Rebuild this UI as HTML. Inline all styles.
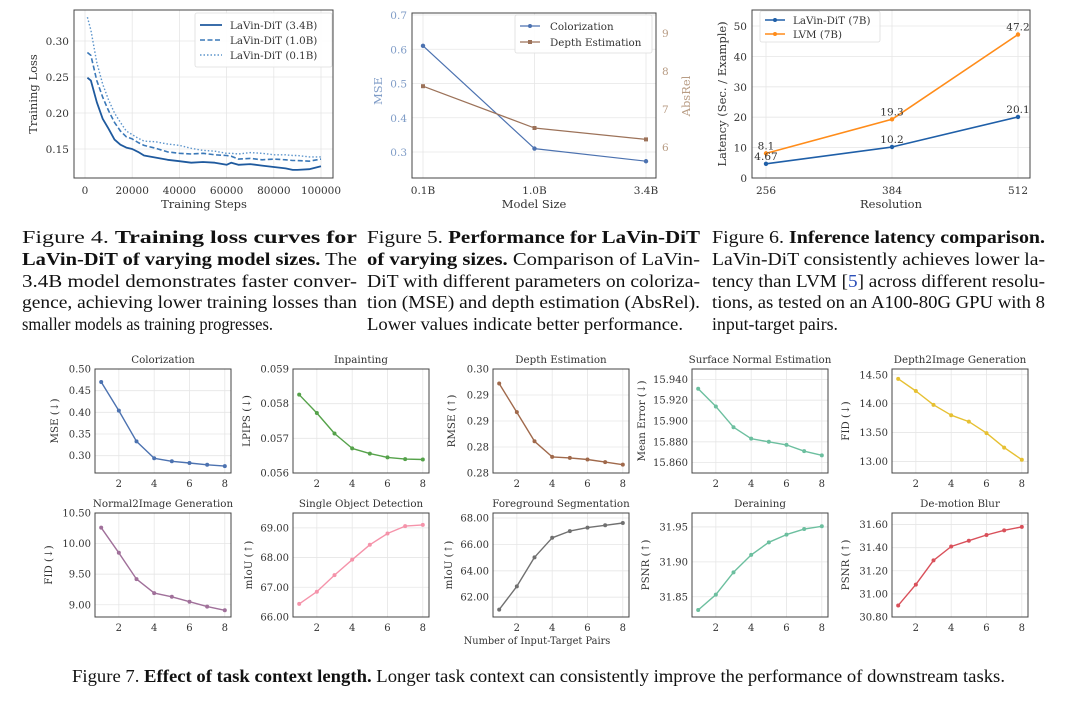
<!DOCTYPE html>
<html><head><meta charset="utf-8"><style>
html,body{margin:0;padding:0;background:#fff;}
svg{display:block;}
.tk{font-family:"DejaVu Serif","Liberation Serif",serif;fill:#333;}
.cap{font-family:"Liberation Serif","Times New Roman",serif;fill:#111;}
</style></head><body>
<svg id="root" width="1080" height="709" viewBox="0 0 1080 709" xmlns="http://www.w3.org/2000/svg">
<rect width="1080" height="709" fill="#fff"/>
<g id="cap" class="cap" font-size="17.5">
<text x="22" y="243" textLength="335" lengthAdjust="spacingAndGlyphs">Figure 4.   <tspan font-weight="bold">Training   loss   curves   for</tspan></text>
<text x="22" y="265" textLength="335" lengthAdjust="spacingAndGlyphs"><tspan font-weight="bold">LaVin-DiT of varying model sizes.</tspan>  The</text>
<text x="22" y="287" textLength="335" lengthAdjust="spacingAndGlyphs">3.4B  model  demonstrates  faster  conver-</text>
<text x="22" y="308" textLength="335" lengthAdjust="spacingAndGlyphs">gence, achieving lower training losses than</text>
<text x="22" y="330" textLength="251" lengthAdjust="spacingAndGlyphs">smaller models as training progresses.</text>
<text x="367" y="243" textLength="333" lengthAdjust="spacingAndGlyphs">Figure 5.  <tspan font-weight="bold">Performance for LaVin-DiT</tspan></text>
<text x="367" y="265" textLength="333" lengthAdjust="spacingAndGlyphs"><tspan font-weight="bold">of varying sizes.</tspan>  Comparison of LaVin-</text>
<text x="367" y="287" textLength="333" lengthAdjust="spacingAndGlyphs">DiT with different parameters on coloriza-</text>
<text x="367" y="308" textLength="333" lengthAdjust="spacingAndGlyphs">tion (MSE) and depth estimation (AbsRel).</text>
<text x="367" y="330" textLength="316" lengthAdjust="spacingAndGlyphs">Lower values indicate better performance.</text>
<text x="712" y="243" textLength="333" lengthAdjust="spacingAndGlyphs">Figure 6.  <tspan font-weight="bold">Inference latency comparison.</tspan></text>
<text x="712" y="265" textLength="333" lengthAdjust="spacingAndGlyphs">LaVin-DiT consistently achieves lower la-</text>
<text x="712" y="287" textLength="333" lengthAdjust="spacingAndGlyphs">tency than LVM [<tspan fill="#2b4fb8">5</tspan>] across different resolu-</text>
<text x="712" y="308" textLength="333" lengthAdjust="spacingAndGlyphs">tions, as tested on an A100-80G GPU with 8</text>
<text x="712" y="330" textLength="126" lengthAdjust="spacingAndGlyphs">input-target pairs.</text>
<text x="72" y="682" font-size="17.5" textLength="933" lengthAdjust="spacingAndGlyphs">Figure 7. <tspan font-weight="bold">Effect of task context length.</tspan> Longer task context can consistently improve the performance of downstream tasks.</text>
</g>
</svg>
<script>
// ---------- Figure 4 data ----------
const f4Steps = [1000,2500,5000,7500,10000,12500,15000,17500,20000,22500,25000,30000,35000,40000,45000,50000,55000,60000,62000,65000,70000,75000,80000,85000,88000,90000,95000,100000];
const f4Loss34 = [0.249,0.245,0.215,0.192,0.178,0.163,0.156,0.152,0.150,0.146,0.141,0.138,0.135,0.133,0.131,0.132,0.131,0.128,0.131,0.128,0.129,0.127,0.125,0.123,0.121,0.121,0.122,0.126];
const f4Loss10 = [0.284,0.280,0.245,0.222,0.203,0.187,0.175,0.167,0.164,0.159,0.155,0.151,0.146,0.144,0.143,0.144,0.142,0.141,0.140,0.136,0.137,0.135,0.136,0.135,0.134,0.134,0.133,0.136];
const f4Loss01 = [0.333,0.315,0.270,0.240,0.218,0.200,0.187,0.175,0.170,0.165,0.161,0.160,0.157,0.155,0.151,0.148,0.147,0.144,0.144,0.143,0.145,0.144,0.142,0.142,0.141,0.141,0.139,0.139];
const f4XTicks = [0,20000,40000,60000,80000,100000];
const f4YTicks = [0.15,0.20,0.25,0.30];
// ---------- Figure 5 data ----------
const f5Cats = ["0.1B","1.0B","3.4B"];
const f5Color = [0.61,0.31,0.273];
const f5Depth = [7.6,6.5,6.2];
const f5LTicks = [0.3,0.4,0.5,0.6,0.7];
const f5RTicks = [6,7,8,9];
// ---------- Figure 6 data ----------
const f6Res = [256,384,512];
const f6Lavin = [4.67,10.2,20.1];
const f6Lvm = [8.1,19.3,47.2];
const f6YTicks = [0,10,20,30,40,50];
// ---------- Figure 7 data ----------
const f7Pairs = [1,2,3,4,5,6,7,8];
const f7Colorization = [0.470,0.404,0.333,0.294,0.287,0.283,0.279,0.276];
const f7Inpainting = [0.05826,0.05773,0.05714,0.05671,0.05656,0.05645,0.05640,0.05639];
const f7Depth = [0.2972,0.2917,0.2861,0.2831,0.2829,0.2826,0.2821,0.2816];
const f7Surface = [15.931,15.914,15.894,15.883,15.880,15.877,15.871,15.867];
const f7Depth2Img = [14.43,14.22,13.98,13.80,13.69,13.49,13.24,13.03];
const f7Normal2Img = [10.26,9.85,9.42,9.19,9.13,9.05,8.97,8.91];
const f7SingleObj = [66.44,66.85,67.41,67.93,68.43,68.81,69.06,69.10];
const f7Foreground = [61.06,62.82,65.02,66.50,67.01,67.27,67.45,67.62];
const f7Deraining = [31.831,31.853,31.885,31.910,31.928,31.939,31.947,31.951];
const f7Demotion = [30.90,31.08,31.29,31.41,31.46,31.51,31.55,31.58];
const f7XTicks = [2,4,6,8];
const f7TicksColorization = [0.30,0.35,0.40,0.45,0.50];
const f7TicksInpainting = [0.056,0.057,0.058,0.059];
const f7TicksDepth = [0.280,0.285,0.290,0.295,0.300];
const f7TicksSurface = [15.860,15.880,15.900,15.920,15.940];
const f7TicksDepth2Img = [13.0,13.5,14.0,14.5];
const f7TicksNormal2Img = [9.0,9.5,10.0,10.5];
const f7TicksSingleObj = [66,67,68,69];
const f7TicksForeground = [62,64,66,68];
const f7TicksDeraining = [31.85,31.90,31.95];
const f7TicksDemotion = [30.8,31.0,31.2,31.4,31.6];

const NS="http://www.w3.org/2000/svg";
const root=document.getElementById('root');
function mk(tag,attrs,parent,text){const e=document.createElementNS(NS,tag);for(const k in attrs)e.setAttribute(k,attrs[k]);if(text!==undefined)e.textContent=text;(parent||root).appendChild(e);return e;}
function lin(d0,d1,r0,r1){return v=>r0+(v-d0)/(d1-d0)*(r1-r0);}
function gridH(g,y,x0,x1){const l=mk('line',{x1:x0,x2:x1,y1:y,y2:y,stroke:'#e6e6e6','stroke-width':0.8},g);}
function gridV(g,x,y0,y1){const l=mk('line',{x1:x,x2:x,y1:y0,y2:y1,stroke:'#e6e6e6','stroke-width':0.8},g);}
function frame(g,L,T,R,B){const r=mk('rect',{x:L,y:T,width:R-L,height:B-T,fill:'none',stroke:'#444','stroke-width':1},g);}
function txt(g,x,y,s,size,anchor,extra){const t=mk('text',Object.assign({x:x,y:y,'font-size':size,'text-anchor':anchor||'middle',class:'tk'},extra||{}),g,s);return t;}
function poly(g,xs,ys,color,w,dash){let d='';for(let i=0;i<xs.length;i++)d+=(i?'L':'M')+xs[i].toFixed(1)+','+ys[i].toFixed(1);const p=mk('path',{d:d,fill:'none',stroke:color,'stroke-width':w,'stroke-linejoin':'round'},g);if(dash)p.setAttribute('stroke-dasharray',dash);return p;}
function dots(g,xs,ys,color,r){for(let i=0;i<xs.length;i++){const c=mk('circle',{cx:xs[i],cy:ys[i],r:r,fill:color},g);}}

// ===== Figure 4 =====
(function(){
const g=mk('g',{});
const L=74,T=10,R=333,B=178;
const x=lin(0,100000,85,321), y=lin(0.15,0.30,149,41);
f4XTicks.forEach(v=>{gridV(g,x(v),T,B);const t=txt(g,x(v),194,String(v),10.5);});
f4YTicks.forEach(v=>{gridH(g,y(v),L,R);const t=txt(g,L-5,y(v)+4,v.toFixed(2),10.5,'end');});
const xs=f4Steps.map(x);
let p=poly(g,xs,f4Loss01.map(y),'#5d95cc',1.4,'1.5,2');
p=poly(g,xs,f4Loss10.map(y),'#3a78b8',1.6,'5,2.5');
p=poly(g,xs,f4Loss34.map(y),'#1f5a9e',1.8);
frame(g,L,T,R,B);
let t=txt(g,204,208,'Training Steps',11.5);
t=txt(g,0,0,'Training Loss',11.5,'middle',{transform:'translate(37,94) rotate(-90)'});
const lg=mk('g',{},g);
mk('rect',{x:195,y:13,width:137,height:54,fill:'#fff','fill-opacity':0.9,stroke:'#ddd','stroke-width':0.8,rx:2},lg);
const ent=[['LaVin-DiT (3.4B)','#1f5a9e',null,1.8],['LaVin-DiT (1.0B)','#3a78b8','5,2.5',1.6],['LaVin-DiT (0.1B)','#5d95cc','1.5,2',1.4]];
ent.forEach((e,i)=>{const yy=25+i*15;const l=mk('line',{x1:200,x2:222,y1:yy,y2:yy,stroke:e[1],'stroke-width':e[3]},lg);if(e[2])l.setAttribute('stroke-dasharray',e[2]);const tt=txt(lg,230,yy+4,e[0],10.3,'start');});
})();

// ===== Figure 5 =====
(function(){
const g=mk('g',{});
const L=412,T=13,R=656,B=178;
const x=lin(0,2,423,646), yl=lin(0.3,0.7,152,15), yr=lin(6,9,147,33);
f5Cats.forEach((c,i)=>{gridV(g,x(i),T,B);const t=txt(g,x(i),194,c,10.5);});
f5LTicks.forEach(v=>{gridH(g,yl(v),L,R);const t=txt(g,L-5,yl(v)+4,v.toFixed(1),10.5,'end',{style:'fill:#7f9cc7'});});
f5RTicks.forEach(v=>{const t=txt(g,R+6,yr(v)+4,String(v),10.5,'start',{style:'fill:#b89c84'});});
const xs=f5Cats.map((c,i)=>x(i));
let p=poly(g,xs,f5Color.map(yl),'#4c72b0',1.2);
dots(g,xs,f5Color.map(yl),'#4c72b0',2.2);
p=poly(g,xs,f5Depth.map(yr),'#9c7259',1.2);
f5Depth.forEach((v,i)=>{const r=mk('rect',{x:xs[i]-2,y:yr(v)-2,width:4,height:4,fill:'#9c7259'},g);});
frame(g,L,T,R,B);
let t=txt(g,534,208,'Model Size',11.5);
t=txt(g,0,0,'MSE',11.5,'middle',{transform:'translate(382,91) rotate(-90)',style:'fill:#7f9cc7'});
t=txt(g,0,0,'AbsRel',11.5,'middle',{transform:'translate(690,96) rotate(-90)',style:'fill:#b89c84'});
const lg=mk('g',{},g);
mk('rect',{x:515,y:15,width:137,height:38,fill:'#fff','fill-opacity':0.9,stroke:'#ddd','stroke-width':0.8,rx:2},lg);
mk('line',{x1:520,x2:540,y1:26,y2:26,stroke:'#4c72b0','stroke-width':1.2},lg);mk('circle',{cx:530,cy:26,r:2,fill:'#4c72b0'},lg);
mk('line',{x1:520,x2:540,y1:42,y2:42,stroke:'#9c7259','stroke-width':1.2},lg);mk('rect',{x:528,y:40,width:4,height:4,fill:'#9c7259'},lg);
t=txt(lg,550,30,'Colorization',10.3,'start');
t=txt(lg,550,46,'Depth Estimation',10.3,'start');
})();

// ===== Figure 6 =====
(function(){
const g=mk('g',{});
const L=752,T=10,R=1030,B=178;
const x=lin(256,512,766,1018), y=lin(0,50,178,26);
f6Res.forEach(v=>{gridV(g,x(v),T,B);const t=txt(g,x(v),194,String(v),10.5);});
f6YTicks.forEach(v=>{gridH(g,y(v),L,R);const t=txt(g,L-5,y(v)+4,String(v),10.5,'end');});
const xs=f6Res.map(x);
let p=poly(g,xs,f6Lvm.map(y),'#ff8c1a',1.6);
dots(g,xs,f6Lvm.map(y),'#ff8c1a',2.2);
p=poly(g,xs,f6Lavin.map(y),'#1f5fa8',1.6);
dots(g,xs,f6Lavin.map(y),'#1f5fa8',2.2);
f6Lvm.forEach((v,i)=>{const t=txt(g,xs[i],y(v)-4,String(v),10.5);});
f6Lavin.forEach((v,i)=>{const t=txt(g,xs[i],y(v)-4,String(v),10.5);});
frame(g,L,T,R,B);
let t=txt(g,891,208,'Resolution',11.5);
t=txt(g,0,0,'Latency (Sec. / Example)',11.5,'middle',{transform:'translate(726,94) rotate(-90)'});
const lg=mk('g',{},g);
mk('rect',{x:760,y:11,width:120,height:31,fill:'#fff','fill-opacity':0.9,stroke:'#ddd','stroke-width':0.8,rx:2},lg);
mk('line',{x1:765,x2:785,y1:20,y2:20,stroke:'#1f5fa8','stroke-width':1.6},lg);mk('circle',{cx:775,cy:20,r:2,fill:'#1f5fa8'},lg);
mk('line',{x1:765,x2:785,y1:34,y2:34,stroke:'#ff8c1a','stroke-width':1.6},lg);mk('circle',{cx:775,cy:34,r:2,fill:'#ff8c1a'},lg);
t=txt(lg,793,24,'LaVin-DiT (7B)',10.3,'start');
t=txt(lg,793,38,'LVM (7B)',10.3,'start');
})();

// ===== Figure 7 =====
const panels=[
 {name:'colorization',title:'Colorization',yl:'MSE (↓)',c:'#4c72b0',v:f7Colorization,ticks:f7TicksColorization,dec:2,dom:[0.26,0.50],left:95,row:0,lab:37},
 {name:'inpainting',title:'Inpainting',yl:'LPIPS (↓)',c:'#55a24a',v:f7Inpainting,ticks:f7TicksInpainting,dec:3,dom:[0.056,0.059],left:293,row:0,lab:43},
 {name:'depth-estimation',title:'Depth Estimation',yl:'RMSE (↑)',c:'#a0694b',v:f7Depth,ticks:f7TicksDepth,dec:2,dom:[0.28,0.30],left:493,row:0,lab:38},
 {name:'surface-normal',title:'Surface Normal Estimation',yl:'Mean Error (↓)',c:'#6cbf9f',v:f7Surface,ticks:f7TicksSurface,dec:3,dom:[15.850,15.950],left:692,row:0,lab:47},
 {name:'depth2image',title:'Depth2Image Generation',yl:'FID (↓)',c:'#e6c032',v:f7Depth2Img,ticks:f7TicksDepth2Img,dec:2,dom:[12.80,14.60],left:892,row:0,lab:43},
 {name:'normal2image',title:'Normal2Image Generation',yl:'FID (↓)',c:'#a0709a',v:f7Normal2Img,ticks:f7TicksNormal2Img,dec:2,dom:[8.80,10.50],left:95,row:1,lab:43},
 {name:'single-object-detection',title:'Single Object Detection',yl:'mIoU (↑)',c:'#f593aa',v:f7SingleObj,ticks:f7TicksSingleObj,dec:2,dom:[66.0,69.5],left:293,row:1,lab:41},
 {name:'foreground-segmentation',title:'Foreground Segmentation',yl:'mIoU (↑)',c:'#707070',v:f7Foreground,ticks:f7TicksForeground,dec:2,dom:[60.5,68.38],left:493,row:1,lab:41},
 {name:'deraining',title:'Deraining',yl:'PSNR (↑)',c:'#6cbf9f',v:f7Deraining,ticks:f7TicksDeraining,dec:2,dom:[31.821,31.97],left:692,row:1,lab:43},
 {name:'demotion-blur',title:'De-motion Blur',yl:'PSNR (↑)',c:'#d9505a',v:f7Demotion,ticks:f7TicksDemotion,dec:2,dom:[30.80,31.70],left:892,row:1,lab:43}
];
panels.forEach(P=>{
 const g=mk('g',{});
 
 
 const L=P.left,R=P.left+136,T=P.row?513:369,B=P.row?617:473;
 const x=lin(0.65,8.35,L,R), y=lin(P.dom[0],P.dom[1],B,T);
 f7XTicks.forEach(v=>{gridV(g,x(v),T,B);const t=txt(g,x(v),B+14,String(v),10);});
 P.ticks.forEach(v=>{gridH(g,y(v),L,R);const t=txt(g,L-4,y(v)+3.5,v.toFixed(P.dec),10,'end');});
 const xs=f7Pairs.map(x), ys=P.v.map(y);
 const p=poly(g,xs,ys,P.c,1.4);
 
 
 dots(g,xs,ys,P.c,2);
 frame(g,L,T,R,B);
 let t=txt(g,(L+R)/2,T-6,P.title,10.3);
 t=txt(g,0,0,P.yl,10.3,'middle',{transform:'translate('+(L-P.lab)+','+((T+B)/2)+') rotate(-90)'});
});
const xt=txt(root,537,644,'Number of Input-Target Pairs',9.8);


</script>
</body></html>
